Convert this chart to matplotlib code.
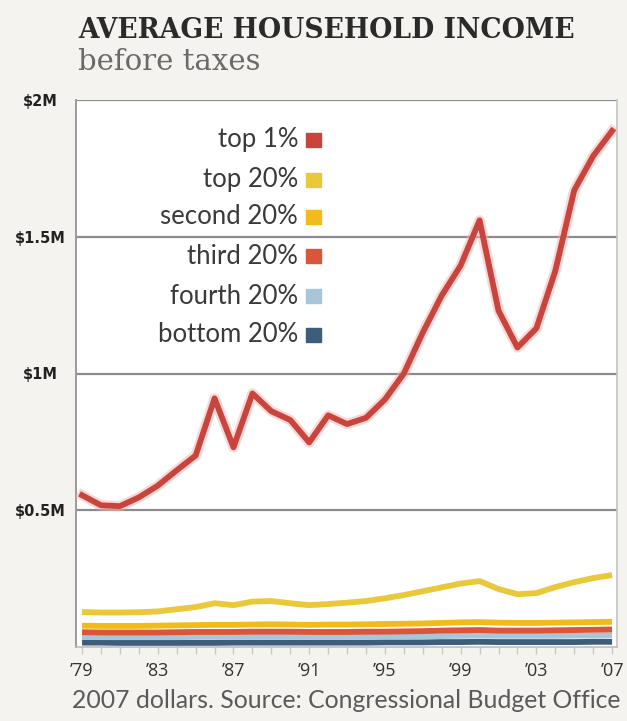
import matplotlib
matplotlib.use("Agg")
import matplotlib.pyplot as plt
from matplotlib.ticker import FixedLocator

# Average pre-tax household income, millions of 2007 dollars
years = list(range(1979, 2008))

top_1 = [0.555, 0.518, 0.515, 0.547, 0.590, 0.646, 0.700, 0.909, 0.730, 0.927,
         0.862, 0.830, 0.748, 0.847, 0.815, 0.838, 0.905, 1.000, 1.150, 1.285,
         1.395, 1.560, 1.230, 1.095, 1.165, 1.375, 1.670, 1.795, 1.887]

top_20 = [0.128, 0.126, 0.126, 0.127, 0.130, 0.138, 0.146, 0.160, 0.153, 0.166,
          0.168, 0.160, 0.153, 0.157, 0.162, 0.168, 0.178, 0.190, 0.204, 0.218,
          0.232, 0.241, 0.212, 0.193, 0.197, 0.219, 0.237, 0.252, 0.263]

second_20 = [0.078, 0.077, 0.077, 0.077, 0.078, 0.079, 0.080, 0.081, 0.081, 0.082,
             0.083, 0.082, 0.081, 0.082, 0.082, 0.083, 0.084, 0.085, 0.086, 0.088,
             0.090, 0.091, 0.089, 0.088, 0.088, 0.089, 0.090, 0.091, 0.092]

third_20 = [0.054, 0.053, 0.053, 0.053, 0.053, 0.054, 0.055, 0.055, 0.055, 0.056,
            0.056, 0.056, 0.055, 0.055, 0.055, 0.056, 0.056, 0.057, 0.058, 0.060,
            0.061, 0.062, 0.060, 0.060, 0.060, 0.061, 0.062, 0.063, 0.064]

fourth_20 = [0.037, 0.036, 0.036, 0.036, 0.036, 0.036, 0.037, 0.037, 0.037, 0.038,
             0.038, 0.038, 0.037, 0.037, 0.037, 0.037, 0.038, 0.038, 0.039, 0.040,
             0.041, 0.042, 0.041, 0.041, 0.041, 0.041, 0.042, 0.042, 0.043]

bottom_20 = [0.016, 0.016, 0.015, 0.015, 0.015, 0.015, 0.015, 0.015, 0.016, 0.016,
             0.016, 0.016, 0.016, 0.016, 0.016, 0.016, 0.017, 0.017, 0.017, 0.018,
             0.018, 0.019, 0.018, 0.018, 0.018, 0.018, 0.018, 0.019, 0.019]

series_labels = ["top 1%", "top 20%", "second 20%", "third 20%", "fourth 20%", "bottom 20%"]
series_colors = ["#c9443d", "#e9c83a", "#f0bb1c", "#d9563a", "#a7c6da", "#3c5d7c"]

y_ticks = [0.5, 1.0, 1.5, 2.0]
y_tick_labels = ["$0.5M", "$1M", "$1.5M", "$2M"]
x_tick_years = [1979, 1983, 1987, 1991, 1995, 1999, 2003, 2007]
x_tick_labels = ["\u201979", "\u201983", "\u201987", "\u201991", "\u201995", "\u201999", "\u201903", "\u201907"]

W, H = 627, 721
fig = plt.figure(figsize=(W / 100, H / 100), dpi=100, facecolor="#f4f3ef")

left, right, top, bottom = 76, 617, 100, 647
ax = fig.add_axes([left / W, 1 - bottom / H, (right - left) / W, (bottom - top) / H])
ax.set_facecolor("white")
ax.set_xlim(1978.68, 2007.26)
ax.set_ylim(0, 2.0)

# horizontal rules
for y in y_ticks:
    ax.axhline(y, color="#8c8c8c", lw=1.6, zorder=1)

# bottom groups first, the top 1% drawn above
bottom_series = [bottom_20, fourth_20, third_20, second_20, top_20]
bottom_colors = series_colors[::-1][:5]
for vals, col in zip(bottom_series, bottom_colors):
    ax.plot(years, vals, color=col, lw=4.2, solid_capstyle="butt", zorder=3)

ax.plot(years, top_1, color="#f3b5b0", lw=7.5, alpha=0.5, solid_joinstyle="round", zorder=3)
ax.plot(years, top_1, color=series_colors[0], lw=4.2, solid_joinstyle="round", zorder=4)

ax.spines["top"].set_visible(False)
ax.spines["left"].set_color("#9a9a9a")
ax.spines["left"].set_linewidth(1.4)
ax.spines["right"].set_color("#c4c4c4")
ax.spines["right"].set_linewidth(1.2)
ax.spines["bottom"].set_color("#bdbdbd")
ax.spines["bottom"].set_linewidth(1.2)

ax.set_yticks(y_ticks)
ax.set_yticklabels(y_tick_labels, fontsize=10.5, fontweight="bold", color="#222222",
                   family=["Liberation Sans Narrow", "DejaVu Sans"])
ax.tick_params(axis="y", length=0, pad=26)
for lab in ax.get_yticklabels():
    lab.set_horizontalalignment("center")

ax.set_xticks(x_tick_years)
ax.set_xticklabels(x_tick_labels, fontsize=13, color="#333333", family=["Open Sans", "DejaVu Sans"])
ax.xaxis.set_minor_locator(FixedLocator(years))
ax.tick_params(axis="x", which="both", direction="out", length=5, width=1, color="#c8c8c8", pad=6)

# legend: right-aligned names with colour squares
leg_y = [140, 180, 217, 256, 296, 335]
for name, col, py in zip(series_labels, series_colors, leg_y):
    fig.text(298 / W, 1 - py / H, name, ha="right", va="center", fontsize=18.5,
             color="#3a3a3a", family=["Lato", "DejaVu Sans"])
    fig.patches.append(plt.Rectangle((306 / W, 1 - (py + 7) / H), 15 / W, 14 / H,
                                     transform=fig.transFigure, color=col, figure=fig))

fig.text(78 / W, 1 - 30 / H, "AVERAGE HOUSEHOLD INCOME", ha="left", va="center",
         fontsize=19.2, fontweight="bold", color="#2a2a2a", family=["DejaVu Serif"])
fig.text(78 / W, 1 - 62 / H, "before taxes", ha="left", va="center",
         fontsize=21, color="#6a6a6a", family=["DejaVu Serif"])
fig.text(72 / W, 1 - 700 / H, "2007 dollars. Source: Congressional Budget Office",
         ha="left", va="center", fontsize=17.8, color="#5a5a5a", family=["Lato", "DejaVu Sans"])

fig.savefig("out.png", dpi=100, facecolor=fig.get_facecolor())
